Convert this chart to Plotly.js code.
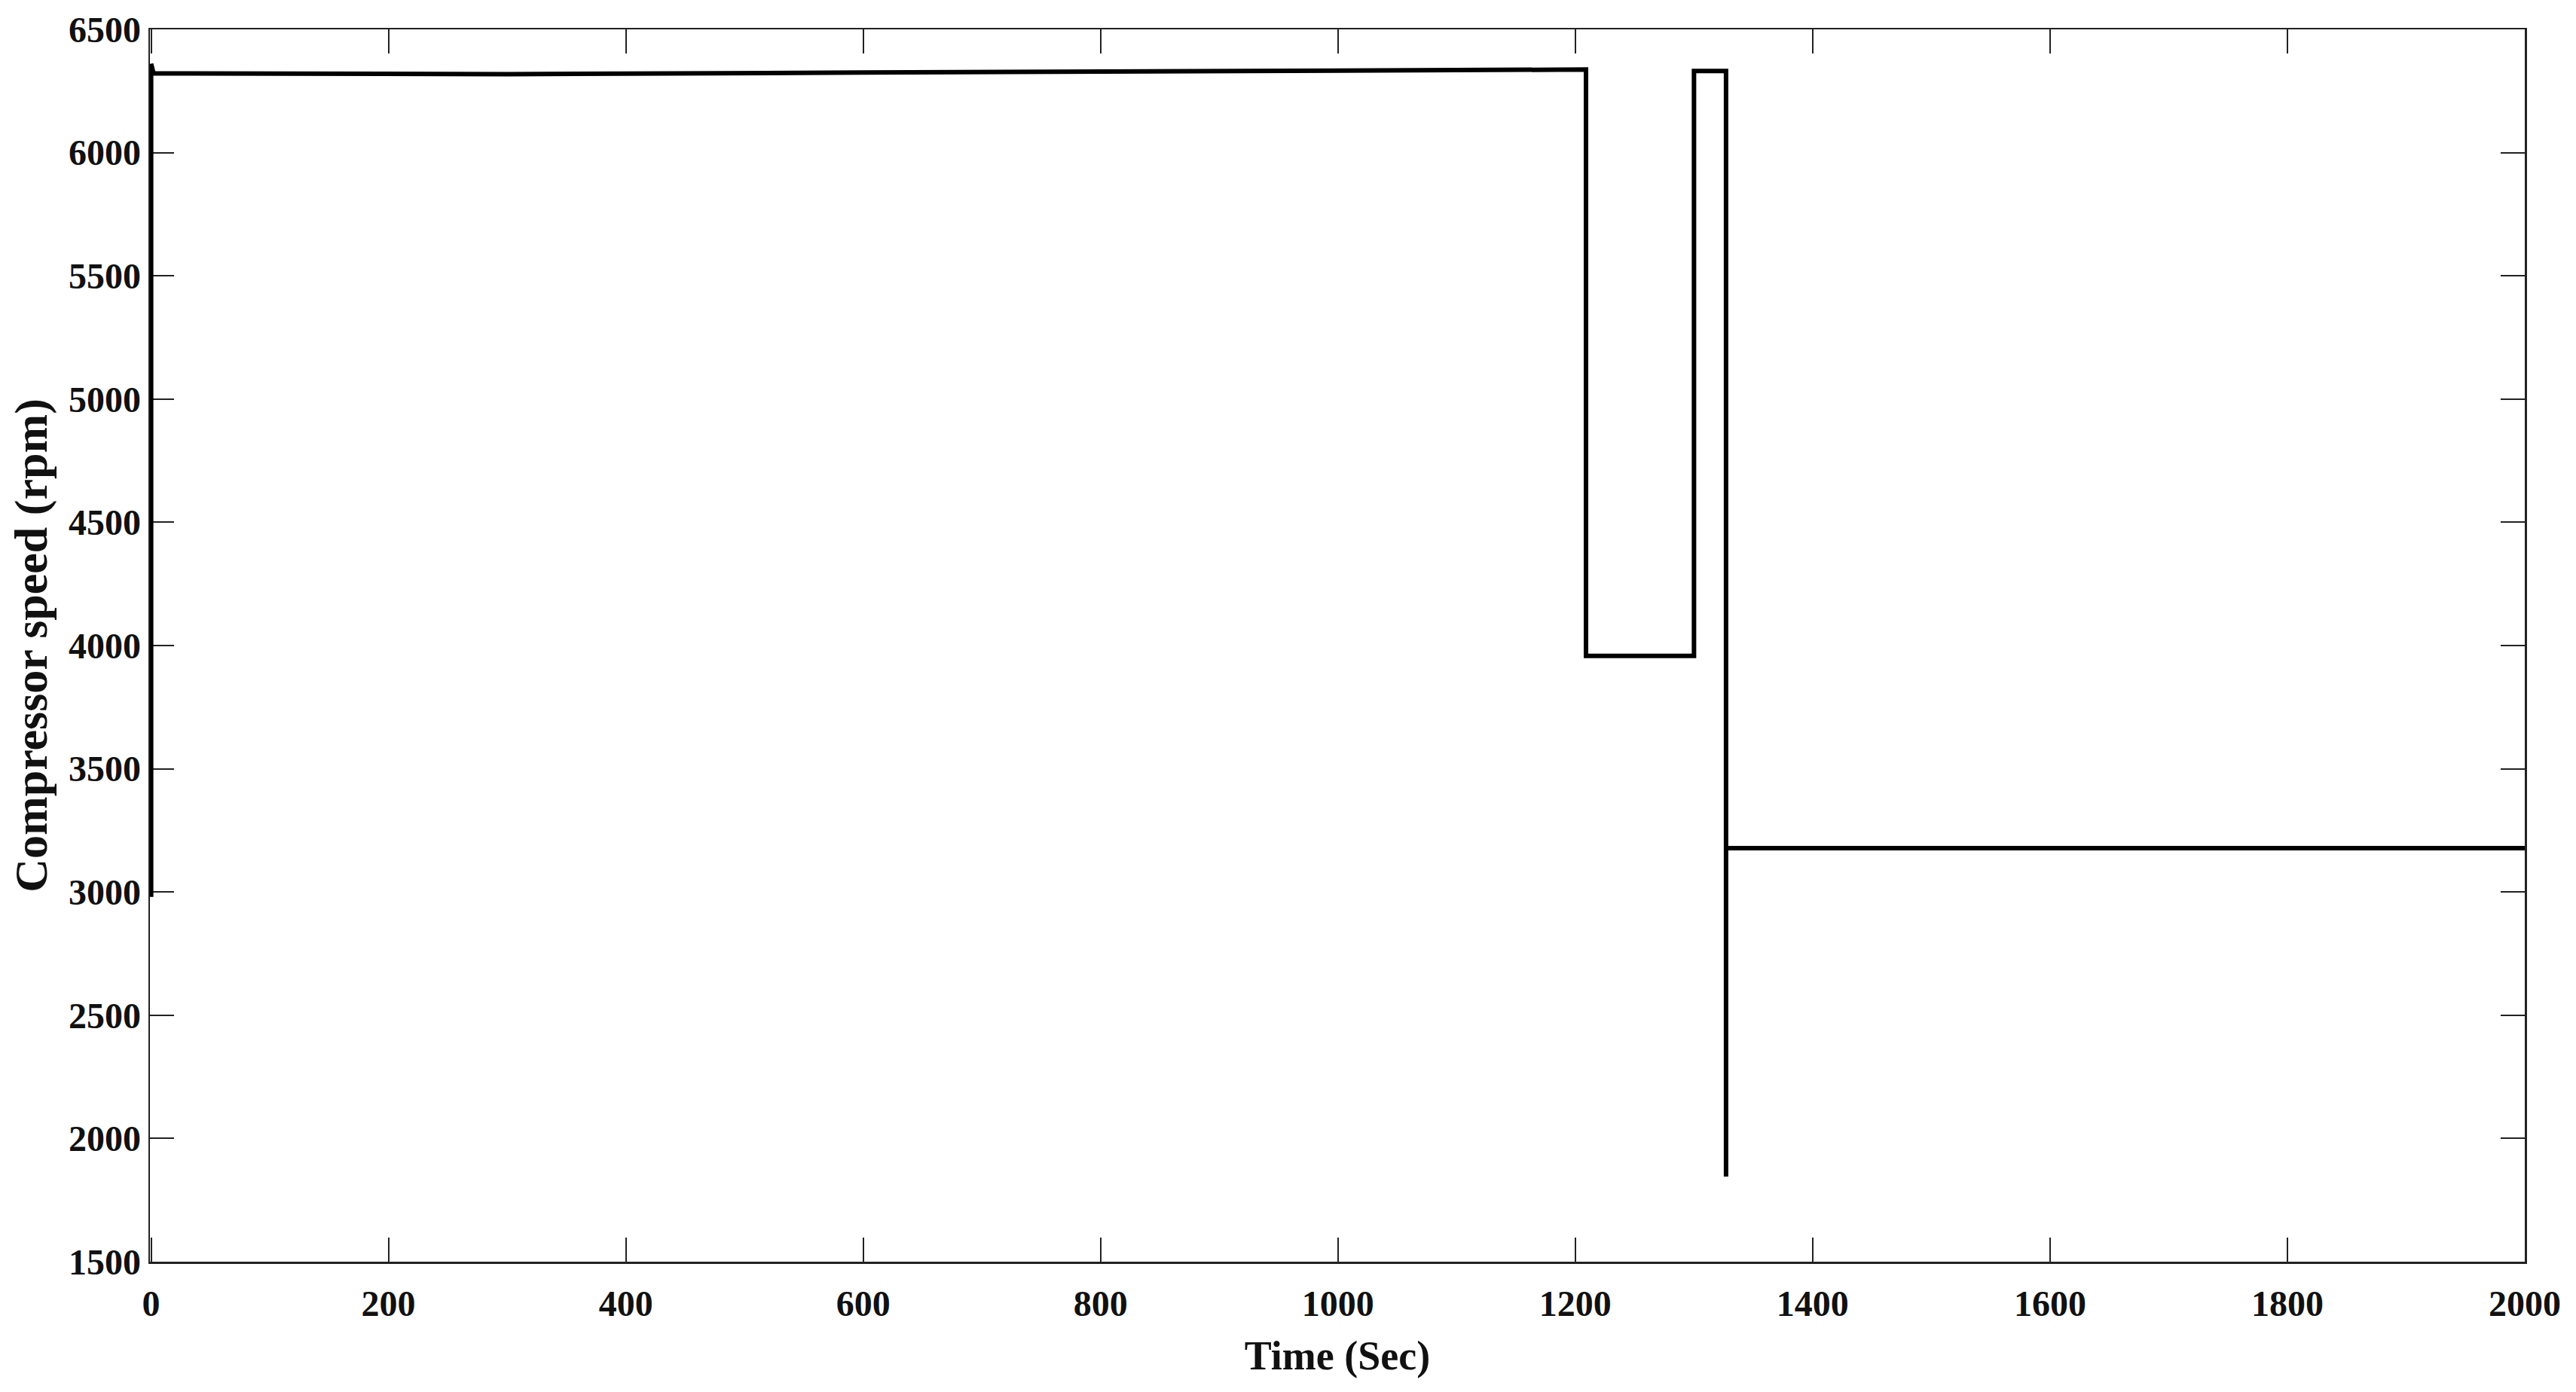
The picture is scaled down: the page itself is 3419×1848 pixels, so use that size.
<!DOCTYPE html>
<html>
<head>
<meta charset="utf-8">
<script src="https://cdn.plot.ly/plotly-3.0.1.min.js"></script>
<style>
  html, body { margin: 0; padding: 0; background: #fff; }
  #chart { width: 3419px; height: 1848px; }
</style>
</head>
<body>
<div id="chart"></div>
<script>
// compressor speed trace
const time_sec = [0, 0, 2, 300, 600, 900, 1209, 1209, 1300, 1300, 1327, 1327, 1327, 2000];
const speed_rpm = [2980, 6360, 6322, 6318, 6325, 6332, 6337, 3958, 3958, 6331, 6331, 1845, 3178, 3178];

const x_ticks = [0, 200, 400, 600, 800, 1000, 1200, 1400, 1600, 1800, 2000];
const y_ticks = [1500, 2000, 2500, 3000, 3500, 4000, 4500, 5000, 5500, 6000, 6500];

const font_family = "'Liberation Serif', 'Times New Roman', serif";

const speed_trace = {
  name: "Compressor speed",
  x: time_sec,
  y: speed_rpm,
  mode: "lines",
  type: "scatter",
  line: { color: "#000", width: 6, shape: "linear" },
  hoverinfo: "x+y",
};

const axis_common = {
  showline: true,
  mirror: "ticks",
  linecolor: "#222",
  linewidth: 2.5,
  ticks: "inside",
  ticklen: 32,
  tickwidth: 2,
  tickcolor: "#222",
  showgrid: false,
  zeroline: false,
  layer: "below traces",
  tickfont: { family: font_family, size: 48, color: "#111", weight: "bold" },
};

const layout = {
  width: 3419,
  height: 1848,
  margin: { l: 199, r: 68, t: 39, b: 173 },
  paper_bgcolor: "#fff",
  plot_bgcolor: "#fff",
  showlegend: false,
  xaxis: {
    ...axis_common,
    // tiny negative start so the x=0 vertical edge isn't hidden under the axis line
    range: [-1, 2000],
    tickvals: x_ticks,
    ticktext: x_ticks.map(String),
    ticklabelstandoff: 12,
    title: {
      text: "Time (Sec)",
      font: { family: font_family, size: 54, color: "#111", weight: "bold" },
      standoff: 24,
    },
  },
  yaxis: {
    ...axis_common,
    range: [1500, 6500],
    tickvals: y_ticks,
    ticktext: y_ticks.map(String),
    title: {
      text: "Compressor speed (rpm)",
      font: { family: font_family, size: 62, color: "#111", weight: "bold" },
      standoff: 8,
    },
  },
};

Plotly.newPlot("chart", [speed_trace], layout, { displayModeBar: false, staticPlot: true });
</script>
</body>
</html>
